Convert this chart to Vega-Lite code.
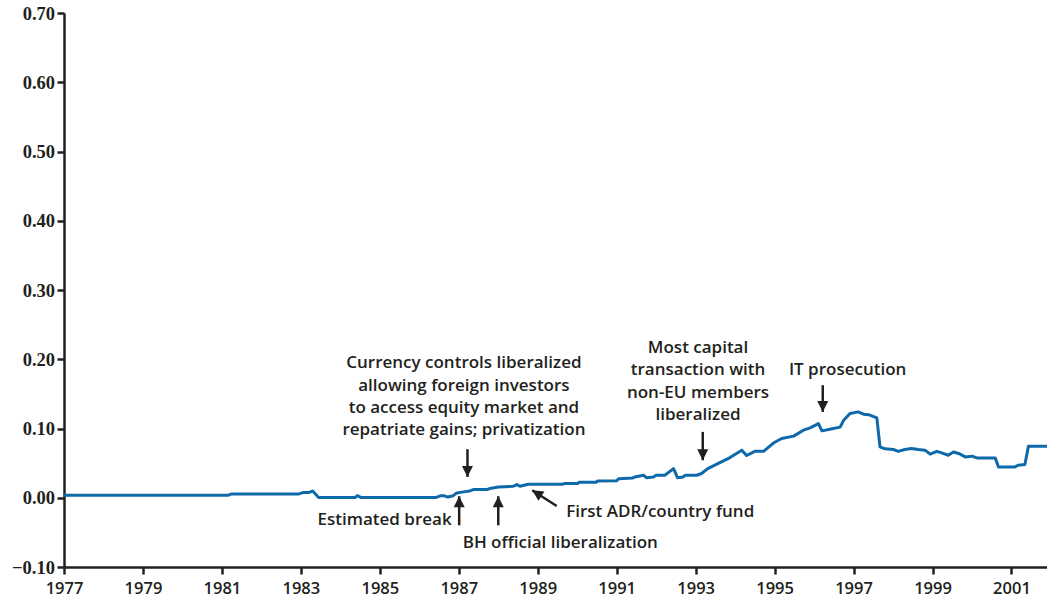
{
  "$schema": "https://vega.github.io/schema/vega-lite/v6.json",
  "width": 983,
  "height": 554,
  "autosize": "none",
  "padding": {"left": 64, "top": 13, "right": 0, "bottom": 34},
  "background": "white",
  "config": {"view": {"stroke": null}},
  "datasets": {
    "series": [
      {"year": 1977.0, "value": 0.0035},
      {"year": 1981.15, "value": 0.0035},
      {"year": 1981.25, "value": 0.0055},
      {"year": 1982.95, "value": 0.0055},
      {"year": 1983.05, "value": 0.0075},
      {"year": 1983.2, "value": 0.0075},
      {"year": 1983.3, "value": 0.0098},
      {"year": 1983.45, "value": 0.0005},
      {"year": 1984.38, "value": 0.0005},
      {"year": 1984.43, "value": 0.003},
      {"year": 1984.52, "value": 0.0005},
      {"year": 1986.43, "value": 0.0005},
      {"year": 1986.55, "value": 0.003},
      {"year": 1986.62, "value": 0.003},
      {"year": 1986.72, "value": 0.001},
      {"year": 1986.86, "value": 0.003},
      {"year": 1986.95, "value": 0.007},
      {"year": 1987.12, "value": 0.0085},
      {"year": 1987.28, "value": 0.0098},
      {"year": 1987.37, "value": 0.0118},
      {"year": 1987.71, "value": 0.0118},
      {"year": 1987.79, "value": 0.0133},
      {"year": 1988.0, "value": 0.0156},
      {"year": 1988.38, "value": 0.0166},
      {"year": 1988.47, "value": 0.019},
      {"year": 1988.55, "value": 0.0166},
      {"year": 1988.76, "value": 0.0195},
      {"year": 1989.63, "value": 0.0195},
      {"year": 1989.67, "value": 0.0205},
      {"year": 1990.01, "value": 0.0205},
      {"year": 1990.05, "value": 0.0224},
      {"year": 1990.48, "value": 0.0224},
      {"year": 1990.52, "value": 0.0243},
      {"year": 1991.0, "value": 0.0245},
      {"year": 1991.05, "value": 0.0275},
      {"year": 1991.4, "value": 0.0285},
      {"year": 1991.46, "value": 0.03},
      {"year": 1991.68, "value": 0.0325},
      {"year": 1991.75, "value": 0.029},
      {"year": 1991.93, "value": 0.03},
      {"year": 1992.0, "value": 0.0325},
      {"year": 1992.22, "value": 0.0325},
      {"year": 1992.44, "value": 0.042},
      {"year": 1992.54, "value": 0.029},
      {"year": 1992.68, "value": 0.03},
      {"year": 1992.74, "value": 0.0325},
      {"year": 1993.03, "value": 0.0325},
      {"year": 1993.15, "value": 0.035},
      {"year": 1993.28, "value": 0.041},
      {"year": 1993.37, "value": 0.044},
      {"year": 1993.87, "value": 0.058},
      {"year": 1994.17, "value": 0.0687},
      {"year": 1994.29, "value": 0.061},
      {"year": 1994.5, "value": 0.067},
      {"year": 1994.72, "value": 0.067},
      {"year": 1994.97, "value": 0.079},
      {"year": 1995.18, "value": 0.0855},
      {"year": 1995.48, "value": 0.089},
      {"year": 1995.73, "value": 0.0976},
      {"year": 1995.9, "value": 0.101},
      {"year": 1996.11, "value": 0.107},
      {"year": 1996.2, "value": 0.0966},
      {"year": 1996.49, "value": 0.1},
      {"year": 1996.66, "value": 0.102},
      {"year": 1996.75, "value": 0.112},
      {"year": 1996.91, "value": 0.1217},
      {"year": 1997.12, "value": 0.124},
      {"year": 1997.25, "value": 0.1207},
      {"year": 1997.38, "value": 0.12},
      {"year": 1997.59, "value": 0.1154},
      {"year": 1997.67, "value": 0.0734},
      {"year": 1997.8, "value": 0.0706},
      {"year": 1998.01, "value": 0.0697},
      {"year": 1998.13, "value": 0.067},
      {"year": 1998.3, "value": 0.0697},
      {"year": 1998.47, "value": 0.071},
      {"year": 1998.64, "value": 0.0697},
      {"year": 1998.81, "value": 0.0687},
      {"year": 1998.94, "value": 0.063},
      {"year": 1999.11, "value": 0.067},
      {"year": 1999.27, "value": 0.064},
      {"year": 1999.4, "value": 0.0614},
      {"year": 1999.53, "value": 0.066},
      {"year": 1999.66, "value": 0.064},
      {"year": 1999.83, "value": 0.059},
      {"year": 2000.0, "value": 0.06},
      {"year": 2000.12, "value": 0.0575},
      {"year": 2000.59, "value": 0.0575},
      {"year": 2000.67, "value": 0.0445},
      {"year": 2001.09, "value": 0.0445},
      {"year": 2001.17, "value": 0.047},
      {"year": 2001.34, "value": 0.048},
      {"year": 2001.43, "value": 0.0745},
      {"year": 2001.9, "value": 0.0745}
    ],
    "notes": [
      {"year": 1987.13, "value": 0.1868, "label": "Currency controls liberalized\nallowing foreign investors\nto access equity market and\nrepatriate gains; privatization"},
      {"year": 1993.06, "value": 0.2089, "label": "Most capital\ntransaction with\nnon-EU members\nliberalized"},
      {"year": 1996.85, "value": 0.1771, "label": "IT prosecution"},
      {"year": 1986.82, "value": -0.0398, "label": "Estimated break"},
      {"year": 1987.10, "value": -0.0723, "label": "BH official liberalization"},
      {"year": 1989.72, "value": -0.0278, "label": "First ADR/country fund"}
    ],
    "arrows": [
      {"event": "Currency controls", "dir": "down", "year": 1987.22, "value": 0.0701, "tipYear": 1987.22, "tipValue": 0.030},
      {"event": "Estimated break", "dir": "up", "year": 1987.01, "value": -0.0398, "tipYear": 1987.01, "tipValue": 0.0022},
      {"event": "BH official liberalization", "dir": "up", "year": 1988.0, "value": -0.0398, "tipYear": 1988.0, "tipValue": 0.0022},
      {"event": "First ADR/country fund", "dir": "upleft", "year": 1989.48, "value": -0.0119, "tipYear": 1988.86, "tipValue": 0.0108},
      {"event": "Most capital transactions", "dir": "down", "year": 1993.18, "value": 0.0951, "tipYear": 1993.18, "tipValue": 0.0542},
      {"event": "IT prosecution", "dir": "down", "year": 1996.22, "value": 0.1626, "tipYear": 1996.22, "tipValue": 0.124}
    ]
  },
  "layer": [
    {
      "data": {"name": "series"},
      "mark": {"type": "line", "color": "#0e69aa", "strokeWidth": 3, "strokeJoin": "round", "clip": true},
      "encoding": {
        "x": {
          "field": "year", "type": "quantitative",
          "scale": {"domain": [1977, 2001.9], "nice": false, "zero": false},
          "axis": {
            "title": null, "values": [1977, 1979, 1981, 1983, 1985, 1987, 1989, 1991, 1993, 1995, 1997, 1999, 2001],
            "format": "d", "grid": false,
            "domainColor": "#231f20", "domainWidth": 2.5,
            "tickColor": "#231f20", "tickWidth": 2.5, "tickSize": 7,
            "labelFont": "Open Sans", "labelFontSize": 16.5, "labelFontWeight": 600, "labelColor": "#231f20", "labelPadding": 6,
            "labelFlush": false, "labelOverlap": false
          }
        },
        "y": {
          "field": "value", "type": "quantitative",
          "scale": {"domain": [-0.1, 0.7], "nice": false, "zero": false},
          "axis": {
            "title": null, "values": [-0.1, 0, 0.1, 0.2, 0.3, 0.4, 0.5, 0.6, 0.7],
            "format": ".2f", "grid": false,
            "domainColor": "#231f20", "domainWidth": 2.5,
            "tickColor": "#231f20", "tickWidth": 2.5, "tickSize": 7,
            "labelFont": "Liberation Serif", "labelFontWeight": "bold", "labelFontSize": 18.5,
            "labelColor": "#231f20", "labelPadding": 2.5, "labelFlush": false, "labelOverlap": false
          }
        }
      }
    },
    {
      "data": {"name": "notes"},
      "transform": [{"filter": {"field": "label", "oneOf": ["Currency controls liberalized\nallowing foreign investors\nto access equity market and\nrepatriate gains; privatization", "Most capital\ntransaction with\nnon-EU members\nliberalized", "IT prosecution"]}}],
      "mark": {"type": "text", "align": "center", "baseline": "alphabetic", "lineBreak": "\n", "lineHeight": 22.3, "font": "Open Sans", "fontSize": 17, "fontWeight": 600, "color": "#231f20"},
      "encoding": {
        "x": {"field": "year", "type": "quantitative"},
        "y": {"field": "value", "type": "quantitative"},
        "text": {"field": "label"}
      }
    },
    {
      "data": {"name": "notes"},
      "transform": [{"filter": {"field": "label", "equal": "Estimated break"}}],
      "mark": {"type": "text", "align": "right", "baseline": "alphabetic", "font": "Open Sans", "fontSize": 17, "fontWeight": 600, "color": "#231f20"},
      "encoding": {
        "x": {"field": "year", "type": "quantitative"},
        "y": {"field": "value", "type": "quantitative"},
        "text": {"field": "label"}
      }
    },
    {
      "data": {"name": "notes"},
      "transform": [{"filter": {"field": "label", "oneOf": ["BH official liberalization", "First ADR/country fund"]}}],
      "mark": {"type": "text", "align": "left", "baseline": "alphabetic", "font": "Open Sans", "fontSize": 17, "fontWeight": 600, "color": "#231f20"},
      "encoding": {
        "x": {"field": "year", "type": "quantitative"},
        "y": {"field": "value", "type": "quantitative"},
        "text": {"field": "label"}
      }
    },
    {
      "data": {"name": "arrows"},
      "mark": {"type": "rule", "color": "#231f20", "strokeWidth": 2.5},
      "encoding": {
        "x": {"field": "year", "type": "quantitative"},
        "y": {"field": "value", "type": "quantitative"},
        "x2": {"field": "tipYear"},
        "y2": {"field": "tipValue"}
      }
    },
    {
      "data": {"name": "arrows"},
      "transform": [{"filter": {"field": "dir", "equal": "down"}}],
      "mark": {"type": "point", "shape": "M0,0L-1,-2L1,-2Z", "size": 121, "filled": true, "color": "#231f20", "opacity": 1, "strokeWidth": 0},
      "encoding": {
        "x": {"field": "tipYear", "type": "quantitative"},
        "y": {"field": "tipValue", "type": "quantitative"}
      }
    },
    {
      "data": {"name": "arrows"},
      "transform": [{"filter": {"field": "dir", "equal": "up"}}],
      "mark": {"type": "point", "shape": "M0,0L-1,-2L1,-2Z", "angle": 180, "size": 121, "filled": true, "color": "#231f20", "opacity": 1, "strokeWidth": 0},
      "encoding": {
        "x": {"field": "tipYear", "type": "quantitative"},
        "y": {"field": "tipValue", "type": "quantitative"}
      }
    },
    {
      "data": {"name": "arrows"},
      "transform": [{"filter": {"field": "dir", "equal": "upleft"}}],
      "mark": {"type": "point", "shape": "M0,0L-1,-2L1,-2Z", "angle": 122.7, "size": 121, "filled": true, "color": "#231f20", "opacity": 1, "strokeWidth": 0},
      "encoding": {
        "x": {"field": "tipYear", "type": "quantitative"},
        "y": {"field": "tipValue", "type": "quantitative"}
      }
    }
  ]
}
